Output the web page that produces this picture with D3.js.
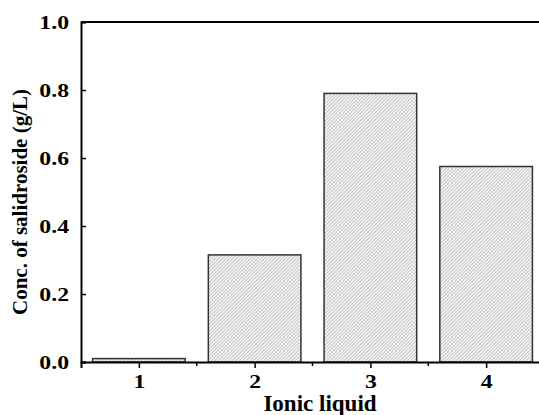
<!DOCTYPE html>
<html>
<head>
<meta charset="utf-8">
<script src="https://d3js.org/d3.v7.min.js"></script>
<style>
  body { margin: 0; background: #fff; }
  text { font-family: "Liberation Serif", "Times New Roman", serif; font-weight: bold; }
</style>
</head>
<body>
<div id="chart"></div>
<script>
// data
var categories = [1, 2, 3, 4];
var values = [0.01, 0.315, 0.79, 0.575];
var yTicks = [0, 0.2, 0.4, 0.6, 0.8, 1.0];
var xMinorTicks = [1.5, 2.5, 3.5, 4.5];

var margin = {top: 22, left: 81, right: -5, bottom: 53},
    width = 539 - margin.left - margin.right,
    height = 415 - margin.top - margin.bottom;

var sx = 1.25; // tick labels look stretched sideways

var svg = d3.select("#chart")
  .append("svg")
    .attr("width", 539)
    .attr("height", 415)
  .append("g")
    .attr("transform", "translate(" + margin.left + "," + margin.top + ")");

// hatch fill
var defs = svg.append("defs");
defs.append("pattern")
    .attr("id", "hatch")
    .attr("patternUnits", "userSpaceOnUse")
    .attr("width", 3.5)
    .attr("height", 3.5)
  .append("path")
    .attr("d", "M-1,1 l2,-2 M0,3.5 l3.5,-3.5 M2.5,4.5 l2,-2")
    .attr("stroke", "#b0b0b0")
    .attr("stroke-width", 0.9);

var x = d3.scaleLinear()
  .domain([0.5, 4.5])
  .range([0, width]);

var y = d3.scaleLinear()
  .domain([0, 1.0])
  .range([height, 0]);

// bars
svg.selectAll("rect.bar")
  .data(values)
  .enter()
  .append("rect")
    .attr("class", "bar")
    .attr("x", function(d, i) { return x(categories[i] - 0.4); })
    .attr("width", function(d, i) { return x(categories[i] + 0.4) - x(categories[i] - 0.4); })
    .attr("y", function(d) { return y(d); })
    .attr("height", function(d) { return height - y(d); })
    .attr("fill", "url(#hatch)")
    .attr("stroke", "#333")
    .attr("stroke-width", 1.5);

// X axis
var xAxis = svg.append("g")
  .attr("transform", "translate(0," + height + ")")
  .call(d3.axisBottom(x).tickValues(categories).tickFormat(d3.format("d")).tickSize(6).tickPadding(7));
xAxis.select(".domain").attr("stroke-width", 2);
xAxis.selectAll(".tick line").attr("stroke-width", 1.5);
xAxis.selectAll("text")
  .style("font-size", "19px")
  .attr("fill", "#000")
  .attr("transform", "scale(" + sx + ",1)");

// minor ticks
svg.append("g")
  .selectAll("line")
  .data(xMinorTicks)
  .enter()
  .append("line")
    .attr("x1", function(d) { return x(d); })
    .attr("x2", function(d) { return x(d); })
    .attr("y1", height)
    .attr("y2", height + 4)
    .attr("stroke", "#000")
    .attr("stroke-width", 1.5);

// Y axis
var yAxis = svg.append("g")
  .call(d3.axisLeft(y).tickValues(yTicks).tickFormat(d3.format(".1f")).tickSize(-5).tickPadding(12));
yAxis.select(".domain").attr("stroke-width", 2);
yAxis.selectAll(".tick line").attr("stroke-width", 1.5);
yAxis.selectAll("text")
  .style("font-size", "19px")
  .attr("fill", "#000")
  .attr("x", -12 / sx)
  .attr("transform", "scale(" + sx + ",1)");

// top and right frame lines
svg.append("line")
  .attr("x1", 0)
  .attr("x2", width)
  .attr("y1", 0)
  .attr("y2", 0)
  .attr("stroke", "#000")
  .attr("stroke-width", 2);
svg.append("line")
  .attr("x1", width)
  .attr("x2", width)
  .attr("y1", 0)
  .attr("y2", height)
  .attr("stroke", "#000")
  .attr("stroke-width", 2);

// axis titles
svg.append("text")
  .attr("text-anchor", "middle")
  .attr("x", 239)
  .attr("y", height + 49)
  .style("font-size", "23px")
  .text("Ionic liquid");

svg.append("text")
  .attr("text-anchor", "middle")
  .attr("transform", "translate(-54,180) rotate(-90)")
  .style("font-size", "21px")
  .text("Conc. of salidroside  (g/L)");
</script>
</body>
</html>
